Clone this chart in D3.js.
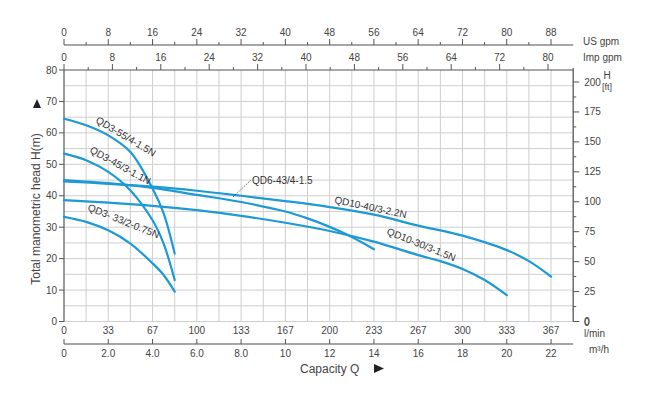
<!DOCTYPE html>
<html>
<head>
<meta charset="utf-8">
<script src="https://cdn.jsdelivr.net/npm/d3@7"></script>
<style>
  body { margin: 0; background: #fff; }
  text { font-family: "Liberation Sans", Arial, sans-serif; }
</style>
</head>
<body>
<div id="chart"></div>
<script>
// pump curves: capacity in m3/h, head in m
var qd3_55 = [[0, 64.5], [1, 62.4], [2, 59.2], [3, 53.9], [4, 42.3], [4.5, 34.4], [5, 21.6]];
var qd3_45 = [[0, 53.4], [1, 51.3], [2, 47.6], [3, 41.7], [4, 32.2], [4.5, 24.8], [5, 13.2]];
var qd3_33 = [[0, 33.3], [1, 31.7], [2, 29.0], [3, 24.8], [4, 18.5], [4.5, 14.8], [5, 9.5]];
var qd6_43 = [[0, 45.0], [2, 44.0], [4, 42.5], [6, 40.3], [8, 38.0], [10, 35.0], [11, 32.8], [12, 30.1], [13, 26.9], [14, 23.0]];
var qd10_40 = [[0, 44.6], [2, 43.8], [4, 42.9], [6, 41.6], [8, 40.0], [10, 38.3], [12, 36.4], [14, 34.0], [16, 30.5], [18, 27.3], [20, 22.7], [21, 19.2], [22, 14.3]];
var qd10_30 = [[0, 38.6], [2, 37.8], [4, 36.8], [6, 35.4], [8, 33.6], [10, 31.4], [12, 28.8], [14, 25.4], [16, 21.1], [17, 19.2], [18, 16.7], [19, 13.2], [20, 8.4]];

var m3hTicks = [0, 2, 4, 6, 8, 10, 12, 14, 16, 18, 20, 22];
var m3hLabels = ["0", "2.0", "4.0", "6.0", "8.0", "10", "12", "14", "16", "18", "20", "22"];
var lminLabels = ["0", "33", "67", "100", "133", "167", "200", "233", "267", "300", "333", "367"];
var usTicks = [0, 8, 16, 24, 32, 40, 48, 56, 64, 72, 80, 88];
var impTicks = [0, 8, 16, 24, 32, 40, 48, 56, 64, 72, 80];
var hTicks = [0, 10, 20, 30, 40, 50, 60, 70, 80];
var ftTicks = [0, 25, 50, 75, 100, 125, 150, 175, 200];

var W = 669, H = 396;
var blue = "#1b9ad6", axisCol = "#555", gridCol = "#cfcfcf", txt = "#444";

var svg = d3.select("#chart").append("svg")
    .attr("width", W)
    .attr("height", H);

var x = d3.scaleLinear().domain([0, 23]).range([64, 573.2]);
var y = d3.scaleLinear().domain([0, 80]).range([321.5, 70]);
var yFt = d3.scaleLinear().domain([0, 200]).range([321.5, 82]);
var usX = d3.scaleLinear().domain([0, 88]).range([64, 551]);
var impX = d3.scaleLinear().domain([0, 80]).range([64, 548]);

// grid
svg.append("g").selectAll("line")
    .data(d3.range(1, 24))
    .join("line")
    .attr("x1", function (d) { return x(d); })
    .attr("x2", function (d) { return x(d); })
    .attr("y1", y(80))
    .attr("y2", y(0))
    .attr("stroke", gridCol);
svg.append("g").selectAll("line")
    .data(d3.range(0, 80, 5))
    .join("line")
    .attr("x1", x(0))
    .attr("x2", x(23))
    .attr("y1", function (d) { return y(d); })
    .attr("y2", function (d) { return y(d); })
    .attr("stroke", gridCol);

// frame lines
svg.append("line").attr("x1", x(0)).attr("x2", x(0)).attr("y1", y(80)).attr("y2", y(0))
    .attr("stroke", axisCol).attr("stroke-width", 1.2);
svg.append("line").attr("x1", x(23)).attr("x2", x(23)).attr("y1", y(80) - 2).attr("y2", y(0))
    .attr("stroke", axisCol).attr("stroke-width", 1.2);
svg.append("line").attr("x1", x(0)).attr("x2", x(23)).attr("y1", y(80)).attr("y2", y(80))
    .attr("stroke", axisCol).attr("stroke-width", 1.2);

// left axis (m)
var left = svg.append("g");
left.selectAll("line").data(hTicks).join("line")
    .attr("x1", x(0) - 5).attr("x2", x(0))
    .attr("y1", function (d) { return y(d); })
    .attr("y2", function (d) { return y(d); })
    .attr("stroke", axisCol);
left.selectAll("text").data(hTicks).join("text")
    .attr("x", x(0) - 7)
    .attr("y", function (d) { return y(d) + 3.5; })
    .attr("text-anchor", "end")
    .attr("font-size", 10).attr("fill", txt)
    .text(function (d) { return d; });

// right axis (ft)
var right = svg.append("g");
right.selectAll("line").data(d3.range(0, 201, 12.5)).join("line")
    .attr("x1", x(23))
    .attr("x2", function (d) { return d % 25 === 0 ? x(23) + 6 : x(23) + 3; })
    .attr("y1", function (d) { return yFt(d); })
    .attr("y2", function (d) { return yFt(d); })
    .attr("stroke", axisCol);
right.selectAll("text").data(ftTicks).join("text")
    .attr("x", x(23) + 11)
    .attr("y", function (d) { return yFt(d) + 3.5; })
    .attr("font-size", 10).attr("fill", txt)
    .text(function (d) { return d; });
svg.append("text").attr("x", 607).attr("y", 79).attr("text-anchor", "middle")
    .attr("font-size", 10).attr("fill", txt).text("H");
svg.append("text").attr("x", 607).attr("y", 90).attr("text-anchor", "middle")
    .attr("font-size", 9).attr("fill", txt).text("[ft]");

// top: Imp gpm on plot top
var imp = svg.append("g");
imp.selectAll("line").data(d3.range(0, 84, 4)).join("line")
    .attr("x1", function (d) { return impX(d); })
    .attr("x2", function (d) { return impX(d); })
    .attr("y1", y(80))
    .attr("y2", function (d) { return d % 8 === 0 ? y(80) - 6 : y(80) - 3; })
    .attr("stroke", axisCol);
imp.selectAll("text").data(impTicks).join("text")
    .attr("x", function (d) { return impX(d); })
    .attr("y", y(80) - 9)
    .attr("text-anchor", "middle")
    .attr("font-size", 10).attr("fill", txt)
    .text(function (d) { return d; });

// top: US gpm
var usY = 45;
var us = svg.append("g");
us.append("line").attr("x1", usX(0)).attr("x2", x(23)).attr("y1", usY).attr("y2", usY)
    .attr("stroke", "#888").attr("stroke-width", 1.5);
us.selectAll("line.t").data(d3.range(0, 92, 4)).join("line")
    .attr("class", "t")
    .attr("x1", function (d) { return usX(d); })
    .attr("x2", function (d) { return usX(d); })
    .attr("y1", usY)
    .attr("y2", function (d) { return d % 8 === 0 ? usY - 6 : usY - 3; })
    .attr("stroke", axisCol);
us.selectAll("text").data(usTicks).join("text")
    .attr("x", function (d) { return usX(d); })
    .attr("y", usY - 9)
    .attr("text-anchor", "middle")
    .attr("font-size", 10).attr("fill", txt)
    .text(function (d) { return d; });
svg.append("text").attr("x", 583).attr("y", 45).attr("font-size", 10).attr("fill", txt).text("US gpm");
svg.append("text").attr("x", 583).attr("y", 61).attr("font-size", 10).attr("fill", txt).text("Imp gpm");

// bottom: l/min labels and m3/h axis
var bot = svg.append("g");
bot.selectAll("text.l").data(m3hTicks).join("text")
    .attr("class", "l")
    .attr("x", function (d) { return x(d); })
    .attr("y", 334)
    .attr("text-anchor", "middle")
    .attr("font-size", 10).attr("fill", txt)
    .text(function (d, i) { return lminLabels[i]; });
var mY = 344;
bot.append("line").attr("x1", x(0)).attr("x2", x(23)).attr("y1", mY).attr("y2", mY)
    .attr("stroke", "#888").attr("stroke-width", 1.5);
bot.selectAll("line.t").data(m3hTicks).join("line")
    .attr("class", "t")
    .attr("x1", function (d) { return x(d); })
    .attr("x2", function (d) { return x(d); })
    .attr("y1", mY).attr("y2", mY - 5)
    .attr("stroke", axisCol);
bot.selectAll("text.m").data(m3hTicks).join("text")
    .attr("class", "m")
    .attr("x", function (d) { return x(d); })
    .attr("y", 357)
    .attr("text-anchor", "middle")
    .attr("font-size", 10).attr("fill", txt)
    .text(function (d, i) { return m3hLabels[i]; });
svg.append("text").attr("x", 584).attr("y", 326).attr("font-size", 10).attr("fill", txt).text("0");
svg.append("text").attr("x", 584).attr("y", 337).attr("font-size", 10).attr("fill", txt).text("l/min");
svg.append("text").attr("x", 589).attr("y", 353).attr("font-size", 10).attr("fill", txt).text("m\u00b3/h");

// axis titles
svg.append("text")
    .attr("transform", "translate(40,209) rotate(-90)")
    .attr("text-anchor", "middle")
    .attr("font-size", 12).attr("fill", txt)
    .text("Total manometric head H(m)");
svg.append("path").attr("d", "M33,108 L37,99 L41,108 Z").attr("fill", "#222");
svg.append("text").attr("x", 300).attr("y", 373)
    .attr("font-size", 12).attr("fill", txt).text("Capacity Q");
svg.append("path").attr("d", "M374,364 L384,368.5 L374,373 Z").attr("fill", "#222");

// curves
var line = d3.line()
    .x(function (d) { return x(d[0]); })
    .y(function (d) { return y(d[1]); })
    .curve(d3.curveCatmullRom.alpha(0.5));

var curves = [qd3_55, qd3_45, qd3_33, qd6_43, qd10_40, qd10_30];
svg.append("g").selectAll("path")
    .data(curves)
    .join("path")
    .attr("d", line)
    .attr("fill", "none")
    .attr("stroke", blue)
    .attr("stroke-width", 2.2)
    .attr("stroke-linecap", "round");

// curve labels
function curveLabel(t, px, py, ang) {
    svg.append("text")
        .attr("transform", "translate(" + px + "," + py + ") rotate(" + ang + ")")
        .attr("font-size", 10).attr("fill", "#333")
        .text(t);
}
curveLabel("QD3-55/4-1.5N", 95, 122, 31);
curveLabel("QD3-45/3-1.1N", 89, 152, 29);
curveLabel("QD3- 33/2-0.75N", 87, 210, 22);
curveLabel("QD10-40/3-2.2N", 334, 203, 12);
curveLabel("QD10-30/3-1.5N", 386, 234, 22);
svg.append("text").attr("x", 252).attr("y", 184)
    .attr("font-size", 10).attr("fill", "#333").text("QD6-43/4-1.5");
svg.append("line").attr("x1", 233).attr("y1", 197).attr("x2", 251).attr("y2", 180)
    .attr("stroke", "#333").attr("stroke-width", 0.8).attr("stroke-dasharray", "1.5,1.5");
</script>
</body>
</html>
